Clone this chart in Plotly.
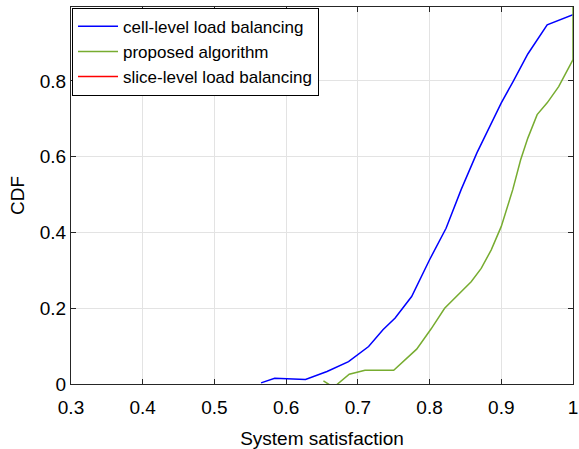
import plotly.graph_objects as go

blue_x = [0.565, 0.584, 0.627, 0.657, 0.687, 0.715, 0.735, 0.752, 0.775, 0.8, 0.823,
          0.844, 0.866, 0.883, 0.9, 0.917, 0.937, 0.964, 1.0]
blue_y = [0.003, 0.015, 0.012, 0.033, 0.059, 0.099, 0.143, 0.174, 0.231, 0.328, 0.411,
          0.513, 0.61, 0.677, 0.742, 0.80, 0.871, 0.948, 0.975]

green_x = [0.652, 0.664, 0.668, 0.688, 0.71, 0.75, 0.782, 0.802, 0.821, 0.84, 0.858,
           0.872, 0.886, 0.9, 0.916, 0.927, 0.937, 0.95, 0.964, 0.98, 1.0, 1.0]
green_y = [0.008, -0.006, -0.006, 0.026, 0.036, 0.036, 0.092, 0.145, 0.2, 0.235, 0.27,
           0.305, 0.354, 0.416, 0.513, 0.592, 0.649, 0.711, 0.742, 0.785, 0.856, 1.0]

# slice-level curve is not visible inside the plotted range (legend entry only)
red_x = [1.0]
red_y = [None]

x_ticks = [0.3, 0.4, 0.5, 0.6, 0.7, 0.8, 0.9, 1.0]
x_tick_labels = ["0.3", "0.4", "0.5", "0.6", "0.7", "0.8", "0.9", "1"]
y_ticks = [0, 0.2, 0.4, 0.6, 0.8]
y_tick_labels = ["0", "0.2", "0.4", "0.6", "0.8"]

FONT = "Liberation Sans, Arial, Helvetica, sans-serif"
AX = "#262626"

fig = go.Figure()
fig.add_trace(go.Scatter(x=blue_x, y=blue_y, mode="lines", name="cell-level load balancing",
                         line=dict(color="#0000ff", width=1.5)))
fig.add_trace(go.Scatter(x=green_x, y=green_y, mode="lines", name="proposed algorithm",
                         line=dict(color="#77ac30", width=1.5)))
fig.add_trace(go.Scatter(x=red_x, y=red_y, mode="lines", name="slice-level load balancing",
                         line=dict(color="#ff0000", width=1.5)))

axis_common = dict(
    showline=True, linecolor=AX, linewidth=1, mirror="allticks",
    ticks="inside", ticklen=5, tickcolor=AX, tickwidth=1,
    showgrid=True, gridcolor="#e3e3e3", gridwidth=1,
    zeroline=False, ticklabeloverflow="allow", layer="below traces",
    tickfont=dict(family=FONT, size=19, color="#000000"),
)

fig.update_layout(
    width=579, height=449,
    margin=dict(l=71, r=6, t=7, b=65, autoexpand=False),
    paper_bgcolor="white", plot_bgcolor="white",
    font=dict(family=FONT, color="#000000"),
    xaxis=dict(range=[0.3, 1.0], tickvals=x_ticks, ticktext=x_tick_labels,
               ticklabelstandoff=6, automargin=False,
               title=dict(text="System satisfaction", font=dict(family=FONT, size=19), standoff=14),
               **axis_common),
    yaxis=dict(range=[0, 0.995], tickvals=y_ticks, ticktext=y_tick_labels,
               automargin=False,
               title=dict(text="CDF", font=dict(family=FONT, size=19), standoff=10),
               **axis_common),
    legend=dict(x=0.002, y=0.998, xanchor="left", yanchor="top",
                bgcolor="white", bordercolor="#000000", borderwidth=1,
                font=dict(family=FONT, size=17, color="#000000"),
                tracegroupgap=0, itemwidth=40),
    showlegend=True,
)

fig.write_html("out.html", config={"displayModeBar": False},
               post_script="document.body.style.margin='0';document.body.style.overflow='hidden';")
